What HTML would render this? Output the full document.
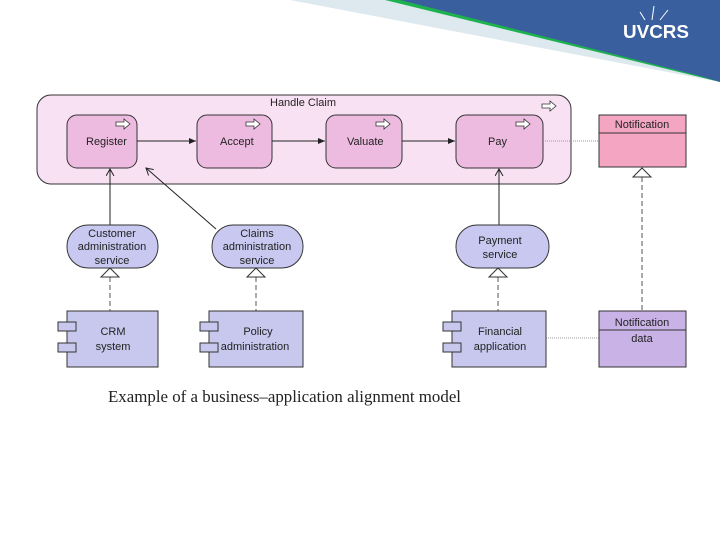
<!DOCTYPE html>
<html><head><style>body{margin:0;width:720px;height:540px;background:#fff;overflow:hidden}text{font-family:"Liberation Sans",sans-serif;font-size:11px;fill:#222}</style></head><body>
<svg width="720" height="540" viewBox="0 0 720 540" xmlns="http://www.w3.org/2000/svg">
<defs><marker id="a" markerWidth="8" markerHeight="8" refX="7" refY="4" orient="auto"><path d="M0,1 L7,4 L0,7 Z" fill="#222"/></marker>
<marker id="o" markerWidth="10" markerHeight="10" refX="7" refY="4" orient="auto"><path d="M0,0 L7,4 L0,8" fill="none" stroke="#222"/></marker></defs>
<polygon points="290,0 720,0 720,82" fill="#dde9ee"/>
<polygon points="385,0 720,0 720,82" fill="#1db24e"/>
<polygon points="400,0 720,0 720,82 700,76" fill="#3a5f9f"/>
<path d="M652,20 L654,6 M660,20 L668,10 M645,20 L640,12" stroke="#fff" stroke-width="1"/>
<text x="623" y="38" textLength="66" lengthAdjust="spacingAndGlyphs" style="font-size:18px;font-weight:bold;fill:#fff">UVCRS</text>
<rect x="37" y="95" width="534" height="89" rx="14" fill="#f9e1f4" stroke="#333"/>
<text x="270" y="106">Handle Claim</text>
<g fill="#eebbe0" stroke="#333">
<rect x="67" y="115" width="70" height="53" rx="10"/><rect x="197" y="115" width="75" height="53" rx="10"/>
<rect x="326" y="115" width="76" height="53" rx="10"/><rect x="456" y="115" width="87" height="53" rx="10"/></g>
<g fill="#fff" stroke="#333" stroke-width="0.8">
<path d="M116,122h8v-3l6,5-6,5v-3h-8z"/><path d="M246,122h8v-3l6,5-6,5v-3h-8z"/><path d="M376,122h8v-3l6,5-6,5v-3h-8z"/><path d="M516,122h8v-3l6,5-6,5v-3h-8z"/><path d="M542,104h8v-3l6,5-6,5v-3h-8z"/></g>
<text x="86" y="145">Register</text><text x="220" y="145">Accept</text><text x="347" y="145">Valuate</text><text x="488" y="145">Pay</text>
<g stroke="#222" fill="none"><line x1="137" y1="141" x2="196" y2="141" marker-end="url(#a)"/><line x1="272" y1="141" x2="325" y2="141" marker-end="url(#a)"/><line x1="402" y1="141" x2="455" y2="141" marker-end="url(#a)"/>
<line x1="110" y1="225" x2="110" y2="169" marker-end="url(#o)"/><line x1="216" y1="229" x2="146" y2="168" marker-end="url(#o)"/><line x1="499" y1="225" x2="499" y2="169" marker-end="url(#o)"/></g>
<g stroke="#999" stroke-dasharray="1,1"><line x1="543" y1="141" x2="599" y2="141"/><line x1="546" y1="338" x2="599" y2="338"/></g>
<g fill="#c8c8f0" stroke="#333"><rect x="67" y="225" width="91" height="43" rx="21"/><rect x="212" y="225" width="91" height="43" rx="21"/><rect x="456" y="225" width="93" height="43" rx="21"/></g>
<g text-anchor="middle"><text x="112" y="237">Customer</text><text x="112" y="250">administration</text><text x="112" y="264">service</text>
<text x="257" y="237">Claims</text><text x="257" y="250">administration</text><text x="257" y="264">service</text>
<text x="500" y="244">Payment</text><text x="500" y="258">service</text></g>
<g stroke="#555" stroke-dasharray="5,3"><line x1="110" y1="277" x2="110" y2="311"/><line x1="256" y1="277" x2="256" y2="311"/><line x1="498" y1="277" x2="498" y2="311"/><line x1="642" y1="177" x2="642" y2="311"/></g>
<g fill="#fff" stroke="#333"><path d="M101,277h18l-9,-9z"/><path d="M247,277h18l-9,-9z"/><path d="M489,277h18l-9,-9z"/><path d="M633,177h18l-9,-9z"/></g>
<rect x="599" y="115" width="87" height="52" fill="#f4a5c2" stroke="#333"/><line x1="599" y1="133" x2="686" y2="133" stroke="#333"/>
<text x="642" y="128" text-anchor="middle">Notification</text>
<rect x="599" y="311" width="87" height="56" fill="#c9b2e6" stroke="#333"/><line x1="599" y1="330" x2="686" y2="330" stroke="#333"/>
<text x="642" y="326" text-anchor="middle">Notification</text><text x="642" y="342" text-anchor="middle">data</text>
<g fill="#c8c8ef" stroke="#333"><rect x="67" y="311" width="91" height="56"/><rect x="209" y="311" width="94" height="56"/><rect x="452" y="311" width="94" height="56"/>
<rect x="58" y="322" width="18" height="9"/><rect x="58" y="343" width="18" height="9"/><rect x="200" y="322" width="18" height="9"/><rect x="200" y="343" width="18" height="9"/><rect x="443" y="322" width="18" height="9"/><rect x="443" y="343" width="18" height="9"/></g>
<g text-anchor="middle" style="font-size:12px"><text x="113" y="335">CRM</text><text x="113" y="350">system</text><text x="258" y="335">Policy</text><text x="255" y="350">administration</text><text x="500" y="335">Financial</text><text x="500" y="350">application</text></g>
<text x="108" y="402" textLength="353" lengthAdjust="spacingAndGlyphs" style="font-family:'Liberation Serif',serif;font-size:16.5px">Example of a business–application alignment model</text>
</svg></body></html>
